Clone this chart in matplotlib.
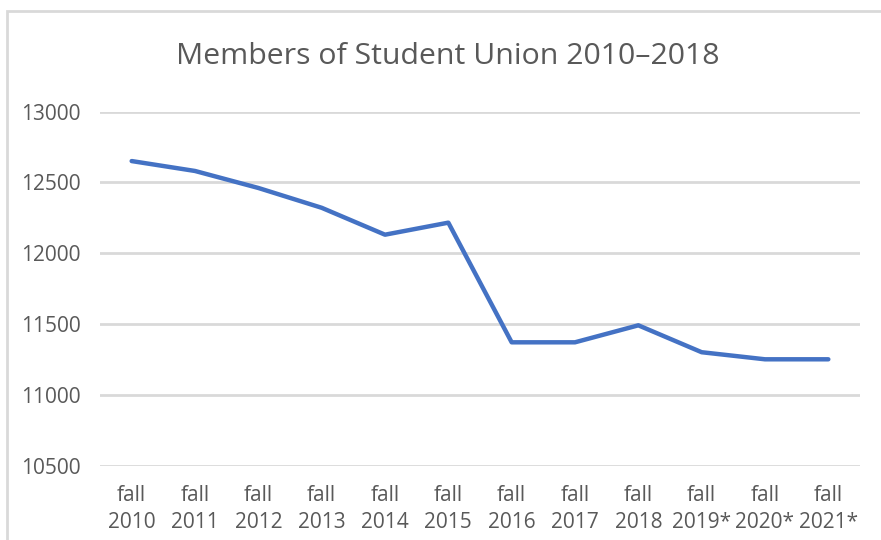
import matplotlib

matplotlib.use("Agg")
import matplotlib.pyplot as plt
from matplotlib.patches import Rectangle

# data
years = ["2010", "2011", "2012", "2013", "2014", "2015",
         "2016", "2017", "2018", "2019*", "2020*", "2021*"]
members = [12650, 12580, 12460, 12320, 12130, 12215,
           11370, 11370, 11490, 11300, 11250, 11250]
y_ticks = [10500, 11000, 11500, 12000, 12500, 13000]

labels = ["fall\n" + y for y in years]

plt.rcParams["font.family"] = ["Open Sans", "DejaVu Sans"]

fig = plt.figure(figsize=(8.81, 5.40), dpi=100)
ax = fig.add_axes([100 / 881, 1 - 465.5 / 540, 760 / 881, 354 / 540])

# chart border (only top and left edges show in the crop)
fig.patches.append(Rectangle((7 / 881, -0.1), 1.2, 1 - 11 / 540 + 0.1,
                             transform=fig.transFigure, fill=False,
                             edgecolor="#d9d9d9", linewidth=2))

x = list(range(len(years)))
ax.plot(x, members, color="#4472c4", linewidth=3.2,
        solid_joinstyle="round", solid_capstyle="round", zorder=3)

ax.set_xlim(-0.5, len(years) - 0.5)
ax.set_ylim(y_ticks[0], y_ticks[-1])
ax.set_yticks(y_ticks)
ax.set_xticks(x)
ax.set_xticklabels(labels, linespacing=1.4)
ax.grid(axis="y", color="#d9d9d9", linewidth=2)
ax.set_axisbelow(True)
for s in ax.spines.values():
    s.set_visible(False)
ax.tick_params(axis="both", length=0, labelsize=15, colors="#595959")
ax.tick_params(axis="y", pad=14)
ax.tick_params(axis="x", pad=14)

fig.text(448 / 881, 1 - 56 / 540, "Members of Student Union 2010\u20132018",
         ha="center", va="center", fontsize=21.8, color="#595959")

fig.savefig("out.png", dpi=100)
